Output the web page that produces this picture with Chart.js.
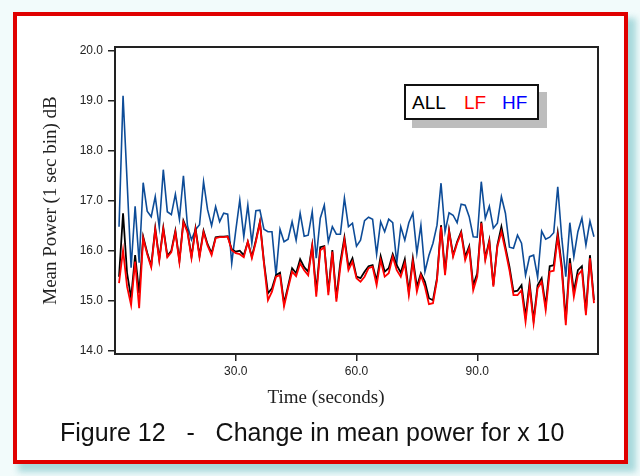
<!DOCTYPE html>
<html>
<head>
<meta charset="utf-8">
<script src="https://cdn.jsdelivr.net/npm/chart.js@4.4.1/dist/chart.umd.min.js"></script>
<style>
  html, body { margin: 0; padding: 0; }
  body { width: 640px; height: 476px; position: relative; overflow: hidden; background: #f2fbfb; }
  #shadow { position: absolute; left: 18px; top: 18px; width: 618px; height: 454px; background: #a8d9dc; filter: blur(3px); }
  #frame { position: absolute; left: 13px; top: 12px; width: 607px; height: 444px; border: 4px solid #e00000; background: #fff; }
  #chartBox { position: absolute; left: 0; top: 0; width: 640px; height: 476px; }
  #legendShadow { position: absolute; left: 412px; top: 92px; width: 135px; height: 36px; background: #bdbdbd; }
  #legend { position: absolute; left: 404px; top: 84px; width: 131px; height: 32px; border: 2px solid #111; background: #fff;
            font: 19px "Liberation Sans", Arial, sans-serif; line-height: 32px; white-space: pre; }
  #legend span { position: absolute; top: 1px; }
  #xTitle { position: absolute; left: 226px; width: 200px; top: 386px; text-align: center;
            font: 19px "Liberation Serif", "DejaVu Serif", serif; color: #222; }
  #caption { position: absolute; left: 60px; top: 418px; font: 25px "Liberation Sans", Arial, sans-serif; color: #111; white-space: pre; }
</style>
</head>
<body>
<div id="shadow"></div>
<div id="frame"></div>
<div id="chartBox"><canvas id="powerChart" width="640" height="476"></canvas></div>
<div id="legendShadow"></div>
<div id="legend"><span style="left:6px;color:#000">ALL</span><span style="left:58px;color:#ff0000">LF</span><span style="left:96px;color:#0000ff">HF</span></div>
<div id="xTitle">Time (seconds)</div>
<div id="caption">Figure 12   -   Change in mean power for x 10</div>
<script>
// waktu (detik), satu titik per detik
const seconds = [];
for (let s = 1; s <= 119; s++) seconds.push(s);

const yTicks = [14, 15, 16, 17, 18, 19, 20];
const xTicks = [30, 60, 90];

const hfPower = [
  16.48, 19.10, 17.40, 15.66, 16.89, 15.76, 17.36, 16.79, 16.68, 17.08,
  16.47, 17.62, 16.78, 16.72, 17.13, 16.63, 17.50, 16.50, 16.22, 16.42,
  16.52, 17.38, 16.82, 16.50, 16.88, 16.58, 16.75, 16.73, 15.75, 16.40,
  17.01, 16.28, 16.91, 16.15, 16.80, 16.81, 16.43, 16.38, 16.38, 15.51,
  16.43, 16.18, 16.23, 16.58, 16.21, 16.75, 16.29, 16.31, 16.78, 15.85,
  16.65, 16.91, 16.18, 16.48, 16.33, 16.33, 17.05, 16.48, 16.55, 16.09,
  16.21, 16.60, 16.67, 16.63, 15.93, 16.58, 16.38, 16.63, 16.56, 15.75,
  16.48, 16.21, 16.56, 16.75, 15.95, 16.51, 15.58, 15.91, 16.15, 16.51,
  17.35, 16.38, 16.76, 16.71, 16.56, 16.93, 16.91, 16.68, 16.28, 16.27,
  17.38, 16.65, 16.89, 16.45, 16.55, 17.08, 16.75, 16.07, 16.05, 16.31,
  16.15, 15.51, 15.88, 15.91, 15.47, 16.39, 16.23, 16.27, 16.36, 17.28,
  16.25, 15.48, 16.56, 15.88, 16.38, 16.65, 16.11, 16.59, 16.28
];

const allPower = [
  15.48, 16.75, 15.55, 15.05, 15.91, 15.15, 16.28, 15.96, 15.70, 16.45,
  15.83, 16.46, 15.90, 16.00, 16.40, 15.80, 16.60, 16.40, 15.88, 16.45,
  15.90, 16.40, 16.13, 15.95, 16.27, 16.28, 16.28, 16.29, 16.03, 15.98,
  16.00, 15.91, 16.18, 15.88, 16.21, 16.58, 15.78, 15.15, 15.25, 15.51,
  15.56, 14.95, 15.29, 15.65, 15.55, 15.83, 15.67, 15.58, 16.11, 15.18,
  16.07, 16.09, 15.18, 16.01, 15.05, 15.78, 16.27, 15.68, 15.85, 15.48,
  15.45, 15.58, 15.69, 15.71, 15.40, 15.89, 15.58, 15.65, 15.93, 15.71,
  15.56, 15.83, 15.18, 15.85, 15.28, 15.55, 15.38, 15.05, 15.01, 15.45,
  16.51, 15.58, 16.41, 15.91, 16.18, 16.38, 15.88, 16.09, 15.31, 15.55,
  16.58, 15.85, 16.21, 15.31, 16.11, 16.48, 16.07, 15.68, 15.18, 15.20,
  15.31, 14.68, 15.36, 14.61, 15.31, 15.45, 14.89, 15.69, 15.71, 16.36,
  15.69, 14.61, 15.85, 15.18, 15.61, 15.69, 14.78, 15.91, 15.01
];

const lfPower = [
  15.35, 16.01, 15.28, 14.91, 15.78, 14.85, 16.25, 15.93, 15.67, 16.42,
  15.80, 16.43, 15.87, 15.97, 16.37, 15.77, 16.57, 16.37, 15.85, 16.42,
  15.87, 16.37, 16.10, 15.91, 16.25, 16.27, 16.27, 16.28, 16.01, 15.95,
  15.93, 15.87, 16.18, 15.85, 16.18, 16.56, 15.75, 15.01, 15.18, 15.48,
  15.51, 14.89, 15.25, 15.58, 15.49, 15.75, 15.61, 15.51, 16.09, 15.08,
  16.01, 16.07, 15.11, 15.98, 14.98, 15.68, 16.21, 15.61, 15.78, 15.45,
  15.38, 15.48, 15.65, 15.68, 15.31, 15.81, 15.48, 15.55, 15.88, 15.61,
  15.48, 15.75, 15.11, 15.78, 15.18, 15.51, 15.28, 14.93, 14.95, 15.41,
  16.48, 15.51, 16.38, 15.88, 16.15, 16.35, 15.81, 16.05, 15.21, 15.48,
  16.55, 15.81, 16.18, 15.28, 16.08, 16.38, 16.01, 15.61, 15.11, 15.11,
  15.21, 14.58, 15.28, 14.55, 15.25, 15.38, 14.81, 15.58, 15.60, 16.28,
  15.61, 14.51, 15.75, 15.08, 15.51, 15.61, 14.71, 15.85, 14.95
];

const toPoints = vals => vals.map((v, i) => ({ x: seconds[i], y: v }));

// kotak hitam di sekeliling area plot
const plotFrame = {
  id: 'plotFrame',
  afterDatasetsDraw(chart) {
    const a = chart.chartArea;
    const ctx = chart.ctx;
    ctx.save();
    ctx.strokeStyle = '#222';
    ctx.lineWidth = 2;
    ctx.strokeRect(a.left, a.top, a.right - a.left, a.bottom - a.top);
    ctx.restore();
  }
};

const tickFont = { family: '"Liberation Sans", Arial, sans-serif', size: 12 };
const titleFont = { family: '"Liberation Serif", "DejaVu Serif", serif', size: 19 };

new Chart(document.getElementById('powerChart').getContext('2d'), {
  type: 'line',
  data: {
    datasets: [
      { label: 'LF', data: toPoints(lfPower), borderColor: '#ff0000', borderWidth: 1.8, order: 0 },
      { label: 'ALL', data: toPoints(allPower), borderColor: '#000000', borderWidth: 1.8, order: 1 },
      { label: 'HF', data: toPoints(hfPower), borderColor: '#0d4c98', borderWidth: 1.6, order: 2 }
    ]
  },
  options: {
    responsive: false,
    animation: false,
    elements: { point: { radius: 0 }, line: { tension: 0, fill: false } },
    layout: { padding: { left: 0, right: 42, top: 47, bottom: 56 } },
    plugins: { legend: { display: false }, tooltip: { enabled: false } },
    scales: {
      x: {
        type: 'linear',
        min: 0,
        max: 120,
        afterBuildTicks: s => { s.ticks = xTicks.map(v => ({ value: v })); },
        afterFit: s => { s.height = 66; },
        grid: { drawOnChartArea: false, drawTicks: true, tickLength: 7, color: '#222', lineWidth: 1.5 },
        border: { display: false },
        ticks: { font: tickFont, color: '#222', padding: 3, maxRotation: 0, callback: v => v.toFixed(1) }
      },
      y: {
        type: 'linear',
        min: 13.934,
        max: 20.074,
        afterBuildTicks: s => { s.ticks = yTicks.map(v => ({ value: v })); },
        afterFit: s => { s.width = 115; },
        grid: { drawOnChartArea: false, drawTicks: true, tickLength: 7, color: '#222', lineWidth: 1.5 },
        border: { display: false },
        ticks: { font: tickFont, color: '#222', padding: 5, callback: v => v.toFixed(1) },
        title: { display: true, text: 'Mean Power (1 sec bin) dB', font: titleFont, color: '#222', padding: { top: 40, bottom: 0 } }
      }
    }
  },
  plugins: [plotFrame]
});
</script>
</body>
</html>
